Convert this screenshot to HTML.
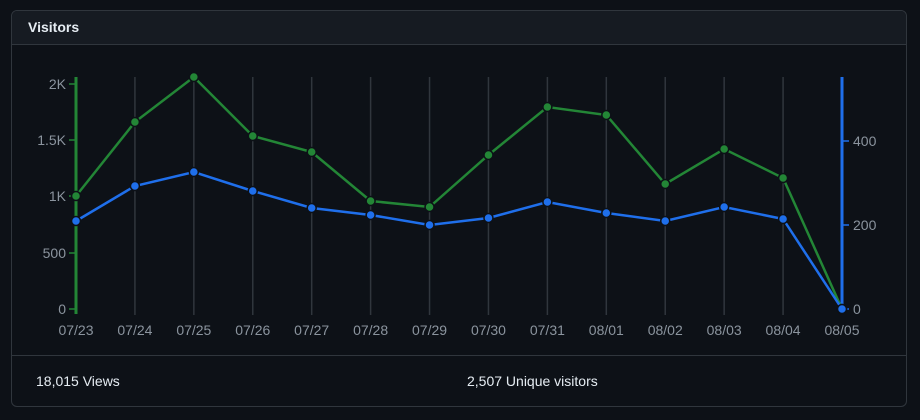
<!DOCTYPE html>
<html><head><style>
body{margin:0;background:#0d1117;width:920px;height:420px;overflow:hidden;font-family:"Liberation Sans",sans-serif;}
.box{position:absolute;left:11px;top:10px;width:894px;height:395px;border:1px solid #30363d;border-radius:6px;background:#0d1117;overflow:hidden}
.hd{height:33px;background:#161b22;border-bottom:1px solid #30363d;color:#e6edf3;font-weight:bold;font-size:14px;line-height:33px;padding-left:16px}
.ft{position:absolute;top:344px;left:0;right:0;border-top:1px solid #30363d;color:#e6edf3;font-size:14px}
.ft span{position:absolute;top:17px}
svg{position:absolute;left:0;top:0}
</style></head><body>
<div class="box"><div class="hd">Visitors</div>
<div class="ft"><span style="left:24px">18,015 Views</span><span style="left:455px">2,507 Unique visitors</span></div>
</div>
<svg width="920" height="420" font-family="Liberation Sans, sans-serif" font-size="14" fill="#8b949e">
<g stroke="#30363d" stroke-width="1.5" id="grid"></g>
<g id="lab"></g>
<line x1="76" y1="77" x2="76" y2="314" stroke="#238636" stroke-width="3"/>
<line x1="842" y1="77" x2="842" y2="314" stroke="#1f6feb" stroke-width="3"/>
<g stroke="#238636" stroke-width="1.5">
<line x1="69" y1="84" x2="75" y2="84"/><line x1="69" y1="140" x2="75" y2="140"/><line x1="69" y1="196" x2="75" y2="196"/><line x1="69" y1="253" x2="75" y2="253"/><line x1="69" y1="309" x2="75" y2="309"/></g>
<g stroke="#1f6feb" stroke-width="1.5"><line x1="843" y1="141" x2="849" y2="141"/><line x1="843" y1="225" x2="849" y2="225"/><line x1="843" y1="309" x2="849" y2="309"/></g>
<g text-anchor="end"><text x="66" y="89">2K</text><text x="66" y="145">1.5K</text><text x="66" y="201">1K</text><text x="66" y="258">500</text><text x="66" y="314">0</text></g>
<text x="853" y="146">400</text><text x="853" y="230">200</text><text x="853" y="314">0</text>
<g id="series"></g>
</svg>
<script>
var ns="http://www.w3.org/2000/svg";
var dates=["07/23","07/24","07/25","07/26","07/27","07/28","07/29","07/30","07/31","08/01","08/02","08/03","08/04","08/05"];
var g=[196,122,77,136,152,201,207,155,107,115,184,149,178,309];
var b=[221,186,172,191,208,215,225,218,202,213,221,207,219,309];
function el(t,a,p){var e=document.createElementNS(ns,t);for(var k in a)e.setAttribute(k,a[k]);p.appendChild(e);return e;}
var grid=document.getElementById("grid"),lab=document.getElementById("lab"),s=document.getElementById("series");
for(var i=0;i<14;i++){var x=76+i*766/13;
 if(i>0&&i<13)el("line",{x1:x,y1:77,x2:x,y2:315},grid);
 var t=el("text",{x:x,y:335,"text-anchor":"middle"},lab);t.textContent=dates[i];}
function ser(d,c){var pts=d.map(function(y,i){return (76+i*766/13)+","+y}).join(" ");
 el("polyline",{points:pts,fill:"none",stroke:c,"stroke-width":2.5},s);
 d.forEach(function(y,i){el("circle",{cx:76+i*766/13,cy:y,r:4.5,fill:c,stroke:"#0d1117","stroke-width":1.5},s);});}
ser(g,"#238636");ser(b,"#1f6feb");
</script>
</body></html>
